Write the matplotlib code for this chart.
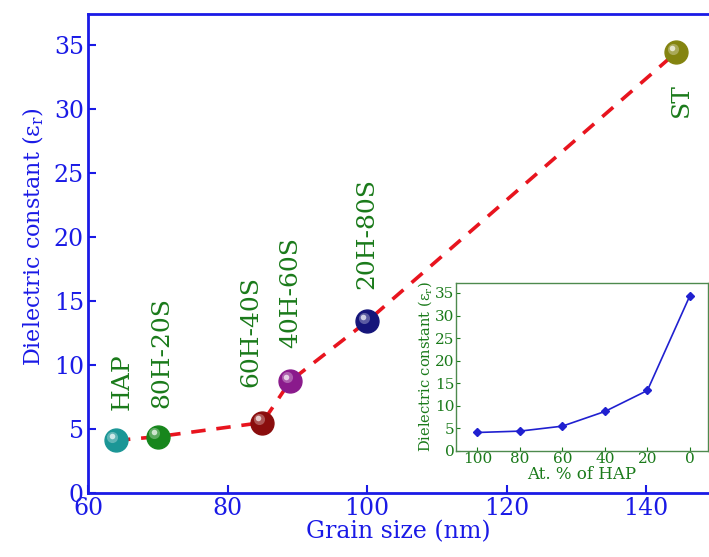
import matplotlib
matplotlib.use("Agg")
import matplotlib.pyplot as plt
import matplotlib.transforms as mtransforms

# main plot data: grain size vs dielectric constant
grain_size = [64, 70, 85, 89, 100, 144.3]
eps_r = [4.1, 4.4, 5.5, 8.75, 13.4, 34.4]
sample_names = ["HAP", "80H-20S", "60H-40S", "40H-60S", "20H-80S", "ST"]
ball_colors = ["#1b9696", "#17861c", "#8a0d0d", "#8a1a8c", "#15157a", "#848410"]

# label anchor positions (data coords)
label_x = [64.9, 70.6, 83.3, 89.0, 100.0, 145.0]
label_y = [6.5, 6.6, 8.3, 11.3, 15.9, 32.0]

# inset data
hap_pct = [100, 80, 60, 40, 20, 0]
inset_eps = [4.1, 4.4, 5.5, 8.75, 13.4, 34.4]

plt.rcParams['font.family'] = ['DejaVu Serif']
plt.rcParams['mathtext.fontset'] = 'dejavuserif'

blue = "#1a1ae6"
green = "#1a7a1a"

fig = plt.figure(figsize=(7.09, 5.57), dpi=100)
ax = fig.add_axes([88 / 709, 1 - 493 / 557, 1 - 88 / 709, (493 - 14) / 557])

# dashed connecting line
ax.plot(grain_size, eps_r, linestyle=(0, (4, 3)), color="#e8141e", lw=2.6, zorder=2)

# shaded "ball" markers
for x, y, c in zip(grain_size, eps_r, ball_colors):
    ax.plot(x, y, "o", ms=16.5, color=c, mec=c, zorder=3)
    hl = mtransforms.offset_copy(ax.transData, fig=fig, x=-2.5, y=2.5, units="points")
    ax.plot(x, y, "o", ms=8, color="white", alpha=0.3, mec="none", transform=hl, zorder=4)
    hl2 = mtransforms.offset_copy(ax.transData, fig=fig, x=-3, y=3, units="points")
    ax.plot(x, y, "o", ms=4, color="white", alpha=0.7, mec="none", transform=hl2, zorder=5)

for name, x, y in zip(sample_names, label_x, label_y):
    va = "top" if name == "ST" else "bottom"
    ax.text(x, y, name, rotation=90, color=green, fontsize=18,
            ha="center", va=va, zorder=6)

ax.set_xlim(60, 149)
ax.set_ylim(0, 37.4)
ax.set_xticks([60, 80, 100, 120, 140])
ax.set_yticks([0, 5, 10, 15, 20, 25, 30, 35])
ax.tick_params(direction="in", length=6, width=1.5, colors=blue, labelsize=17, pad=3)
for s in ax.spines.values():
    s.set_color(blue)
    s.set_linewidth(2)
ax.spines["right"].set_visible(False)
ax.set_xlabel("Grain size (nm)", color=blue, fontsize=17, labelpad=0)
ax.set_ylabel(r"Dielectric constant ($\mathrm{\varepsilon_r}$)", color=blue, fontsize=16)
ax.yaxis.set_label_coords(-0.068, 0.535)

# inset
ax2 = fig.add_axes([456 / 709, 1 - 451 / 557, 252 / 709, 168 / 557])
ax2.plot(hap_pct, inset_eps, "-D", color="#2020d0", lw=1.2, ms=4)
ax2.set_xlim(110, -8.5)
ax2.set_ylim(0, 37.2)
ax2.set_xticks(hap_pct)
ax2.set_yticks([0, 5, 10, 15, 20, 25, 30, 35])
ax2.tick_params(direction="in", length=3, colors=green, labelsize=11, pad=1)
for s in ax2.spines.values():
    s.set_color("#4e8a4e")
    s.set_linewidth(1)
ax2.set_xlabel("At. % of HAP", color=green, fontsize=12, labelpad=0)
ax2.set_ylabel(r"Dielectric constant ($\mathrm{\varepsilon_r}$)", color=green, fontsize=10.5, labelpad=1)

fig.savefig("out.png", dpi=100, facecolor="white")
